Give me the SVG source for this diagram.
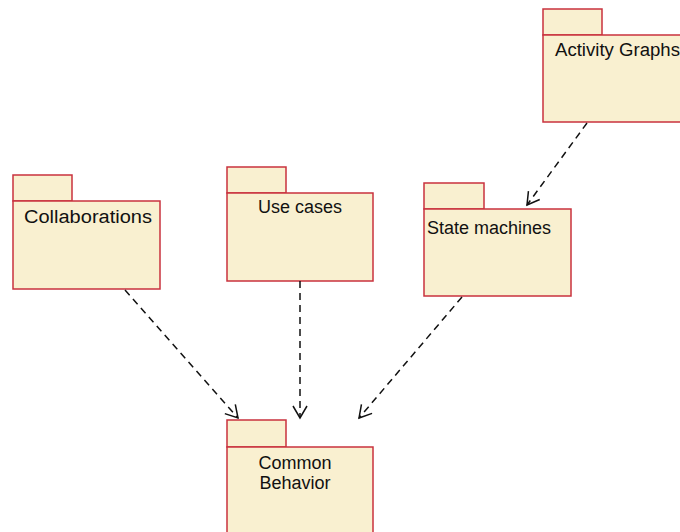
<svg xmlns="http://www.w3.org/2000/svg" width="680" height="532" viewBox="0 0 680 532">
<style>
.pk{fill:#f9f0d0;stroke:#c9323e;stroke-width:1.5}
.lbl{font-family:"Liberation Sans",Arial,sans-serif;font-size:18px;fill:#111}
.dep{fill:none;stroke:#111;stroke-width:1.5;stroke-dasharray:7,5}
</style>
<defs>
<marker id="open" markerWidth="16" markerHeight="16" refX="13" refY="8" orient="auto" markerUnits="userSpaceOnUse">
<path d="M1,1 L13,8 L1,15" fill="none" stroke="#111" stroke-width="1.5"/>
</marker>
</defs>
<rect width="680" height="532" fill="#fff"/>
<g id="collaborations">
<rect class="pk" x="13" y="175" width="59" height="26"/>
<rect class="pk" x="13" y="201" width="147" height="88"/>
<text class="lbl" x="24" y="223" font-size="19" textLength="128" lengthAdjust="spacingAndGlyphs">Collaborations</text>
</g>
<g id="use-cases">
<rect class="pk" x="227" y="167" width="59" height="26"/>
<rect class="pk" x="227" y="193" width="146" height="88"/>
<text class="lbl" x="300" y="213" text-anchor="middle">Use cases</text>
</g>
<g id="state-machines">
<rect class="pk" x="424" y="183" width="60" height="26"/>
<rect class="pk" x="424" y="209" width="147" height="87"/>
<text class="lbl" x="427" y="234">State machines</text>
</g>
<g id="activity-graphs">
<rect class="pk" x="543" y="9" width="59" height="26"/>
<rect class="pk" x="543" y="35" width="147" height="87"/>
<text class="lbl" x="555" y="56" textLength="125" lengthAdjust="spacingAndGlyphs">Activity Graphs</text>
</g>
<g id="common-behavior">
<rect class="pk" x="227" y="420" width="59" height="27"/>
<rect class="pk" x="227" y="447" width="146" height="95"/>
<text class="lbl" x="295" y="469" text-anchor="middle">Common</text>
<text class="lbl" x="295" y="489" text-anchor="middle">Behavior</text>
</g>
<g id="connectors">
<line class="dep" x1="125" y1="290" x2="238" y2="418" marker-end="url(#open)"/>
<line class="dep" x1="300" y1="281" x2="300" y2="418" marker-end="url(#open)"/>
<line class="dep" x1="462" y1="297" x2="359" y2="418" marker-end="url(#open)"/>
<line class="dep" x1="587" y1="123" x2="527" y2="205" marker-end="url(#open)"/>
</g>
</svg>
